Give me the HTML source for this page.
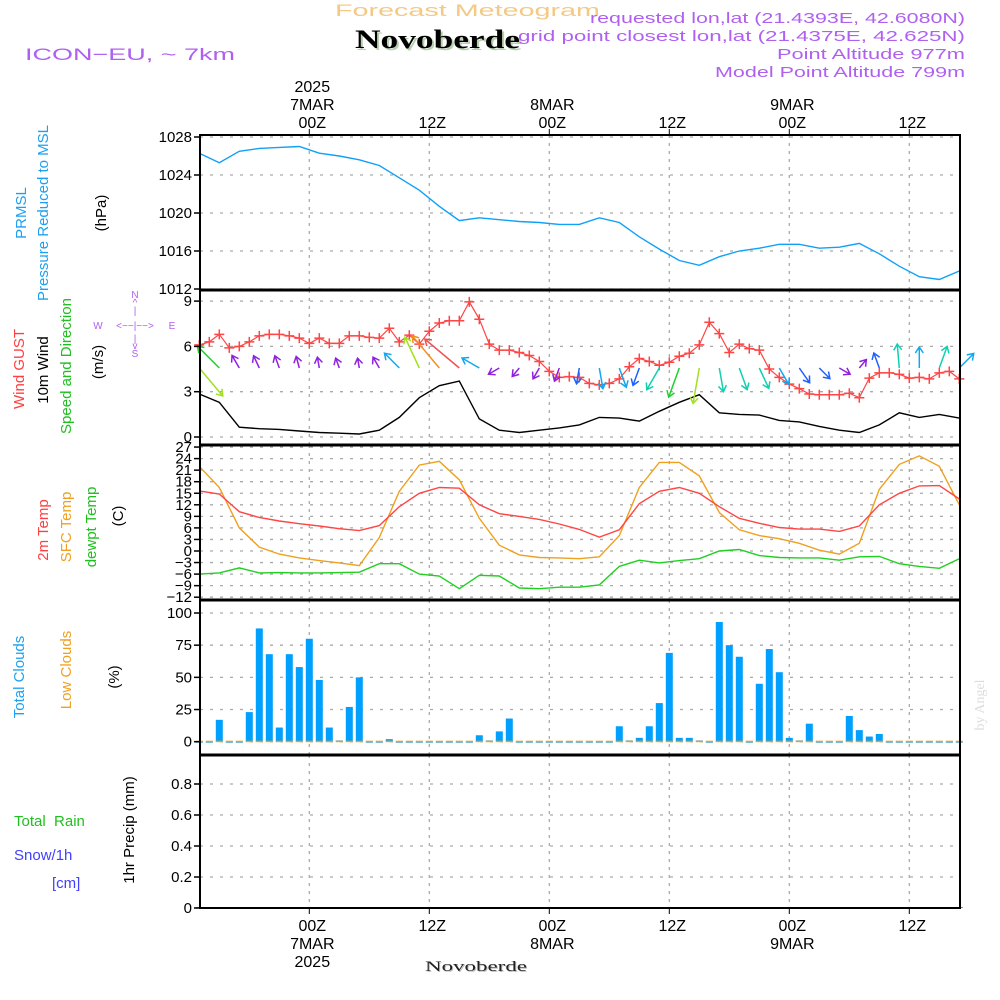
<!DOCTYPE html>
<html><head><meta charset="utf-8"><style>
html,body{margin:0;padding:0;background:#fff;}
svg{display:block;font-family:"Liberation Sans",sans-serif;}
</style></head><body>
<svg id="chart" width="1000" height="1000" viewBox="0 0 1000 1000" xmlns="http://www.w3.org/2000/svg">
<g>
<text x="335" y="16" font-size="17" fill="#f3c985" textLength="265" lengthAdjust="spacingAndGlyphs">Forecast Meteogram</text>
<text x="357" y="50" font-size="26" font-weight="bold" font-family="Liberation Serif,serif" fill="#b8d0b0" textLength="165" lengthAdjust="spacingAndGlyphs">Novoberde</text>
<text x="355" y="48" font-size="26" font-weight="bold" font-family="Liberation Serif,serif" fill="#000" textLength="165" lengthAdjust="spacingAndGlyphs">Novoberde</text>
<text x="25" y="60" font-size="17" fill="#b060f0" textLength="210" lengthAdjust="spacingAndGlyphs">ICON−EU, ~ 7km</text>
<g font-size="15" fill="#b060f0">
<text x="590" y="23" textLength="375" lengthAdjust="spacingAndGlyphs">requested lon,lat (21.4393E, 42.6080N)</text>
<text x="518" y="41" textLength="447" lengthAdjust="spacingAndGlyphs">grid point closest lon,lat (21.4375E, 42.625N)</text>
<text x="777" y="59" textLength="188" lengthAdjust="spacingAndGlyphs">Point Altitude 977m</text>
<text x="715" y="77" textLength="250" lengthAdjust="spacingAndGlyphs">Model Point Altitude 799m</text>
</g>
</g>
<g id="grid"></g>
<g id="marks"></g>
<g id="axes"></g>
<g font-size="15">
<text transform="translate(26,213) rotate(-90)" text-anchor="middle" fill="#1ea0f0">PRMSL</text>
<text transform="translate(48,213) rotate(-90)" text-anchor="middle" fill="#1ea0f0">Pressure Reduced to MSL</text>
<text transform="translate(106,213) rotate(-90)" text-anchor="middle" fill="#000">(hPa)</text>
<text transform="translate(24,369) rotate(-90)" text-anchor="middle" fill="#ff4040">Wind GUST</text>
<text transform="translate(48,370) rotate(-90)" text-anchor="middle" fill="#000">10m Wind</text>
<text transform="translate(71,366) rotate(-90)" text-anchor="middle" fill="#20c020">Speed and Direction</text>
<text transform="translate(103,362) rotate(-90)" text-anchor="middle" fill="#000">(m/s)</text>
<g font-size="10" fill="#b060f0" text-anchor="middle">
<text x="135" y="298">N</text><text x="135" y="306">^</text><text x="135" y="314">|</text>
<text x="98" y="329">W</text><text x="135" y="329">&lt;−−|−−&gt;</text><text x="172" y="329">E</text>
<text x="135" y="342">|</text><text x="135" y="349">v</text><text x="135" y="357">S</text>
</g>
<text transform="translate(48,530) rotate(-90)" text-anchor="middle" fill="#ff4040">2m Temp</text>
<text transform="translate(71,527) rotate(-90)" text-anchor="middle" fill="#f0a020">SFC Temp</text>
<text transform="translate(96,527) rotate(-90)" text-anchor="middle" fill="#20c020">dewpt Temp</text>
<text transform="translate(123,516) rotate(-90)" text-anchor="middle" fill="#000">(C)</text>
<text transform="translate(24,677) rotate(-90)" text-anchor="middle" fill="#1ea0f0">Total Clouds</text>
<text transform="translate(71,670) rotate(-90)" text-anchor="middle" fill="#f0a020">Low Clouds</text>
<text transform="translate(119,677) rotate(-90)" text-anchor="middle" fill="#000">(%)</text>
<text x="14" y="826" fill="#20c020">Total&#160;&#160;Rain</text>
<text x="14" y="860" fill="#4040ff">Snow/1h</text>
<text x="52" y="888" fill="#4040ff">[cm]</text>
<text transform="translate(134,830) rotate(-90)" text-anchor="middle" fill="#000">1hr Precip (mm)</text>
</g>
<text x="426" y="972" font-size="15" font-family="Liberation Serif,serif" fill="#bbb" textLength="102" lengthAdjust="spacingAndGlyphs">Novoberde</text>
<text x="425" y="971" font-size="15" font-family="Liberation Serif,serif" fill="#222" textLength="102" lengthAdjust="spacingAndGlyphs">Novoberde</text>
<text transform="translate(984,705) rotate(-90)" font-size="14" font-family="Liberation Serif,serif" fill="#ddd" text-anchor="middle">by Angel</text>
</svg>
<script>
// ---- data ----
const twoHourly = [-11,-9,-7,-5,-3,-1,1,3,5,7,9,11,13,15,17,19,21,23,25,27,29,31,33,35,37,39,41,43,45,47,49,51,53,55,57,59,61,63,65];
const pressure = [1026.3,1025.3,1026.5,1026.8,1026.9,1027.0,1026.3,1026.0,1025.6,1025.0,1023.7,1022.4,1020.7,1019.2,1019.5,1019.3,1019.1,1019.0,1018.8,1018.8,1019.5,1019.0,1017.5,1016.2,1015.0,1014.5,1015.4,1016.0,1016.3,1016.7,1016.7,1016.3,1016.4,1016.8,1015.7,1014.4,1013.3,1013.0,1013.9];
const wind10m = [2.85,2.3,0.65,0.55,0.5,0.4,0.3,0.25,0.2,0.45,1.3,2.6,3.4,3.7,1.2,0.45,0.3,0.45,0.6,0.8,1.3,1.25,1.05,1.7,2.3,2.8,1.6,1.5,1.45,1.1,1.0,0.7,0.45,0.3,0.8,1.6,1.3,1.5,1.25];
const windToward = [140,315,330,335,340,345,350,340,350,330,315,335,320,310,300,240,220,210,200,190,170,160,200,210,200,190,170,160,155,150,145,135,120,40,340,355,0,20,45];
const t2m = [15.6,14.8,10.2,8.7,7.8,7.1,6.5,5.8,5.3,6.6,11.5,15.0,16.5,16.3,12.0,9.7,9.0,8.2,7.0,5.6,3.6,5.5,12.3,15.5,16.5,15.0,11.5,8.5,7.2,6.1,5.7,5.7,5.1,6.5,12.0,15.0,16.9,17.0,13.5];
const tSfc = [22.0,16.5,6.0,1.0,-0.8,-1.8,-2.5,-3.1,-3.8,3.5,15.5,22.3,23.3,18.5,8.5,1.5,-1.0,-1.7,-1.8,-2.0,-1.5,4.0,16.5,23.0,23.0,19.5,10.0,5.5,4.0,3.2,2.0,0.2,-0.8,2.0,16.0,22.5,24.7,22.0,12.0];
const tDew = [-6.0,-5.7,-4.4,-5.7,-5.6,-5.7,-5.7,-5.6,-5.5,-3.3,-3.3,-6.0,-6.5,-9.8,-6.3,-6.5,-9.6,-9.8,-9.4,-9.4,-8.8,-4.0,-2.4,-3.1,-2.5,-2.0,0,0.4,-1.2,-1.7,-1.8,-1.8,-2.4,-1.5,-1.4,-3.3,-4.0,-4.5,-2.0];
const hourly = [];
for (let h = -11; h <= 65; h++) hourly.push(h);
const gust = [6.1,6.3,6.8,5.9,6.0,6.3,6.7,6.8,6.8,6.7,6.55,6.2,6.55,6.2,6.2,6.7,6.7,6.6,6.55,7.2,6.3,6.75,6.15,7.0,7.55,7.7,7.7,8.95,7.8,6.15,5.75,5.75,5.6,5.4,5.0,4.35,3.95,4.0,3.95,3.55,3.45,3.55,3.85,4.65,5.2,5.0,4.75,4.95,5.35,5.55,6.1,7.6,6.85,5.6,6.15,5.85,5.75,4.5,3.95,3.5,3.2,2.85,2.8,2.8,2.8,2.9,2.6,3.9,4.25,4.25,4.15,3.9,3.95,3.85,4.25,4.35,3.85];
const totalClouds = [0,0,17,0,0,23,88,68,11,68,58,80,48,11,1,27,50,0,0,2,0,0,0,0,0,0,0,0,5,1,8,18,0,0,0,0,0,0,0,0,0,0,12,1,3,12,30,69,3,3,1,0,93,75,66,0,45,72,54,3,1,14,0,0,0,20,9,4,6,0,0,0,0,0,0,0,0];
const lowClouds = hourly.map(() => 0);
const precip = hourly.map(() => 0);
const pressTicks = [1028,1024,1020,1016,1012];
const windTicks = [9,6,3,0];
const tempTicks = [27,24,21,18,15,12,9,6,3,0,-3,-6,-9,-12];
const cloudTicks = [100,75,50,25,0];
const precipTicks = [0.8,0.6,0.4,0.2,0];
const timeTicks = [0,12,24,36,48,60];
const timeLabels = ['00Z','12Z','00Z','12Z','00Z','12Z'];
const dayLabels = ['7MAR','','8MAR','','9MAR',''];

// ---- scales ----
const L = 200, R = 960;
const xS = h => 309.3 + 10 * h;
const yP = v => 289 - (v - 1012) * 9.5;
const yW = v => 437 - v * 15.1;
const yT = v => 551 - v * 3.85;
const yC = v => 741.7 - v * 1.287;
const yR = v => 908 - v * 155;
const NS = 'http://www.w3.org/2000/svg';
const grid = document.getElementById('grid');
const marks = document.getElementById('marks');
const axes = document.getElementById('axes');
function mk(tag, attrs, parent) {
  const e = document.createElementNS(NS, tag);
  for (const k in attrs) e.setAttribute(k, attrs[k]);
  parent.appendChild(e);
  return e;
}
function txt(s, attrs, parent) { const e = mk('text', attrs, parent); e.textContent = s; return e; }

const panels = [[135,290],[290,445],[445,600],[600,755],[755,908]];
panels.forEach(([t,b]) => {
  timeTicks.forEach(h => {
    const ln = mk('line', {x1: xS(h), x2: xS(h), y1: t, y2: b, stroke: '#aaa', 'stroke-width': 1.3, 'stroke-dasharray': '3,5'}, grid);
    
    
  });
});
function yAxis(ticks, scale, fmt, name) {
  ticks.forEach(v => {
    const y = scale(v);
    const g = mk('line', {x1: L, x2: R, y1: y, y2: y, stroke: '#aaa', 'stroke-width': 1.3, 'stroke-dasharray': '3,7'}, grid);
    
    
    mk('line', {x1: L - 6, x2: L, y1: y, y2: y, stroke: '#000', 'stroke-width': 1.5}, axes);
    const t = txt(fmt(v), {x: L - 8, y: y + 5, 'font-size': 15, 'text-anchor': 'end', fill: '#000'}, axes);
    
    
  });
}
yAxis(pressTicks, yP, v => String(v), 'pressure');
yAxis(windTicks, yW, v => String(v), 'wind');
yAxis(tempTicks, yT, v => v < 0 ? '−' + (-v) : String(v), 'temp');
yAxis(cloudTicks, yC, v => String(v), 'cloud');
yAxis(precipTicks, yR, v => v === 0 ? '0' : v.toFixed(1), 'precip');

const fr = mk('rect', {x: L, y: 135, width: R - L, height: 773, fill: 'none', stroke: '#000', 'stroke-width': 2}, axes);


[290,445,600,755].forEach(y => {
  const s = mk('line', {x1: L, x2: R, y1: y, y2: y, stroke: '#000', 'stroke-width': 3}, axes);
  
  
});
timeTicks.forEach((h, i) => {
  const x = xS(h) + 3;
  mk('line', {x1: xS(h), x2: xS(h), y1: 129, y2: 135, stroke: '#000'}, axes);
  mk('line', {x1: xS(h), x2: xS(h), y1: 908, y2: 914, stroke: '#000'}, axes);
  const a = txt(timeLabels[i], {x, y: 128, 'font-size': 16, 'text-anchor': 'middle'}, axes);
  
  
  const b = txt(timeLabels[i], {x, y: 931, 'font-size': 16, 'text-anchor': 'middle'}, axes);
  
  
  if (dayLabels[i]) {
    const c = txt(dayLabels[i], {x, y: 110, 'font-size': 16, 'text-anchor': 'middle'}, axes);
    
    
    const d = txt(dayLabels[i], {x, y: 949, 'font-size': 16, 'text-anchor': 'middle'}, axes);
    
    
  }
  if (i === 0) {
    const e = txt('2025', {x, y: 92, 'font-size': 16, 'text-anchor': 'middle'}, axes);
    
    
    const f = txt('2025', {x, y: 967, 'font-size': 16, 'text-anchor': 'middle'}, axes);
    
    
  }
});

function poly(xs, vals, scale, color, name, w) {
  const pts = vals.map((v, i) => xS(xs[i]).toFixed(1) + ',' + scale(v).toFixed(1)).join(' ');
  const p = mk('polyline', {points: pts, fill: 'none', stroke: color, 'stroke-width': w || 1.4}, marks);
  
  
}
poly(twoHourly, pressure, yP, '#10a0f8', 'pressure-line');
poly(twoHourly, wind10m, yW, '#000', 'wind10m-line');
poly(hourly, gust, yW, '#ff4545', 'gust-line', 1.2);
gust.forEach((v, i) => {
  const x = xS(hourly[i]), y = yW(v);
  const m = mk('path', {d: `M${x-5},${y}H${x+5}M${x},${y-5}V${y+5}`, stroke: '#ff4545', 'stroke-width': 1.5}, marks);
  
  
});
function spdColor(s) {
  if (s < 0.7) return '#9020e0';
  if (s < 1.1) return '#2060ff';
  if (s < 1.45) return '#10a8f0';
  if (s < 1.9) return '#10d0b0';
  if (s < 2.4) return '#20d030';
  if (s < 2.9) return '#a0e020';
  if (s < 3.3) return '#f0c020';
  if (s < 3.6) return '#f09020';
  return '#f05050';
}
windToward.forEach((d, i) => {
  const s = wind10m[i];
  const len = 8 + 10 * s;
  const a = d * Math.PI / 180;
  const x0 = xS(twoHourly[i]), y0 = 368;
  const x1 = x0 + len * Math.sin(a), y1 = y0 - len * Math.cos(a);
  const hx = Math.sin(a), hy = -Math.cos(a);
  const px = -hy, py = hx;
  const c = spdColor(s);
  const ar = mk('path', {d: `M${x0},${y0}L${x1},${y1}M${x1-6*hx+4*px},${y1-6*hy+4*py}L${x1},${y1}L${x1-6*hx-4*px},${y1-6*hy-4*py}`, stroke: c, fill: 'none', 'stroke-width': 1.5}, marks);
  
  
});
poly(twoHourly, tSfc, yT, '#f0a020', 'sfc-temp-line');
poly(twoHourly, t2m, yT, '#ff4545', 't2m-line');
poly(twoHourly, tDew, yT, '#20d020', 'dewpt-line');
totalClouds.forEach((v, i) => {
  const x = xS(hourly[i]);
  const y = yC(v);
  const b = mk('rect', {x: x - 3.5, y: y, width: 7, height: Math.max(yC(0) - y, 1), fill: '#00a0ff'}, marks);
  
  
});
lowClouds.forEach((v, i) => {
  const x = xS(hourly[i]);
  const b = mk('rect', {x: x - 3.5, y: yC(v) - 1, width: 7, height: 1.5, fill: '#f0a020'}, marks);
  
  
});
precip.forEach((v, i) => {
  const x = xS(hourly[i]);
  const b = mk('rect', {x: x - 3.5, y: yR(v) - 1, width: 7, height: 1, fill: '#20c020'}, marks);
  
  
});
</script>
</body></html>
